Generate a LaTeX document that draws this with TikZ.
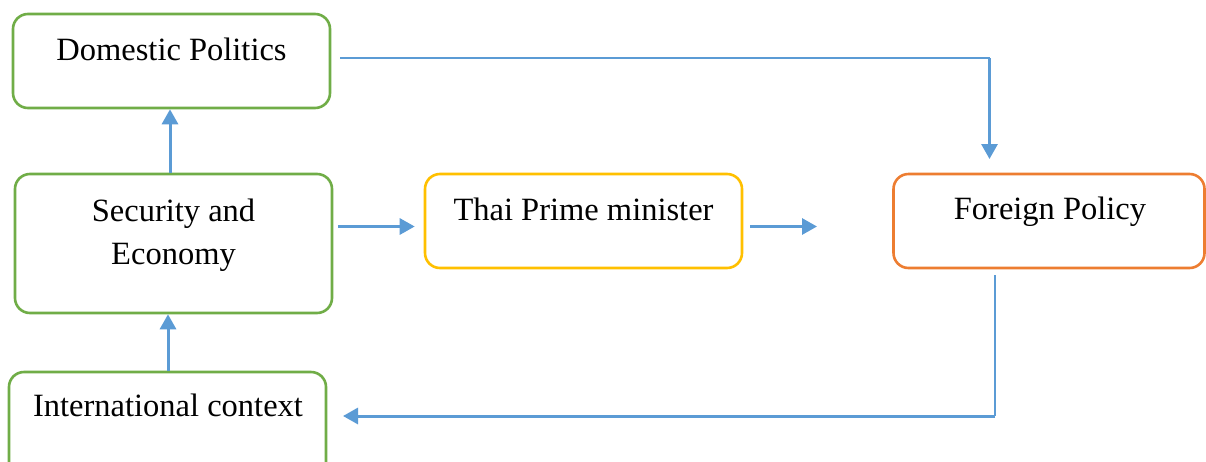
\documentclass[tikz,border=0pt]{standalone}
\usepackage{fontspec}
\setmainfont{Liberation Serif}
\usetikzlibrary{arrows.meta,calc}
\definecolor{boxgreen}{HTML}{70AD47}
\definecolor{boxyellow}{HTML}{FFC000}
\definecolor{boxorange}{HTML}{ED7D31}
\definecolor{linkblue}{HTML}{5B9BD5}
\tikzset{
  box/.style={draw, line width=2.6pt, rounded corners=15pt, rectangle, inner sep=0pt},
  label text/.style={font=\fontsize{32.5}{43}\selectfont, anchor=base, inner sep=0pt, align=center},
  flow/.style={draw=linkblue, line width=3pt, -{Triangle[length=15pt,width=16pt]}},
  thinlink/.style={draw=linkblue, line width=1.1pt},
}
\begin{document}
\begin{tikzpicture}[x=1pt,y=-1pt]
\useasboundingbox (0,0) rectangle (1206,461);
\clip (0,0) rectangle (1206,461);
\fill[white] (0,0) rectangle (1206,461);

% boxes
\node[box, draw=boxgreen, minimum width=317pt, minimum height=94pt] (dom) at (171.5,61) {};
\node[box, draw=boxgreen, minimum width=317pt, minimum height=139pt] (sec) at (173.5,243.5) {};
\node[box, draw=boxyellow, minimum width=317pt, minimum height=94pt] (pm) at (583.5,221) {};
\node[box, draw=boxorange, minimum width=311pt, minimum height=94pt] (fp) at (1049,221) {};
\node[box, draw=boxgreen, minimum width=317pt, minimum height=110pt] (intl) at (167.5,427) {};

% captions
\node[label text] (domt) at (171.5,60) {Domestic Politics};
\node[label text] (sect1) at (173.5,221) {Security and};
\node[label text] (sect2) at (173.5,264) {Economy};
\node[label text] (pmt) at (583.5,220) {Thai Prime minister};
\node[label text] (fpt) at (1050,219) {Foreign Policy};
\node[label text] (intlt) at (168,416) {International context};

% free ends of the connectors
\coordinate (domout) at (340,58);
\coordinate (topcorner) at (989.5,58);
\coordinate (fpin) at (989.5,159);
\coordinate (pmout) at (817,226.5);
\coordinate (fpout) at (995,275);
\coordinate (botcorner) at (995,416);
\coordinate (intlin) at (343,416);

% connectors
\draw[flow] ([xshift=-3.5pt]sec.north) -- ([xshift=-1.5pt]dom.south);
\draw[flow] ([xshift=0.5pt]intl.north) -- ([xshift=-5.5pt]sec.south);
\draw[flow, shorten <=5pt, shorten >=9pt] (sec.east |- pmout) -- (pm.west |- pmout);
\draw[flow, shorten <=7pt] (pm.east |- pmout) -- (pmout);
\draw[thinlink] (domout) -- (topcorner);
\draw[flow] (topcorner) -- (fpin);
\draw[thinlink] (fpout) -- (botcorner);
\draw[flow] (botcorner) -- (intlin);
\end{tikzpicture}
\end{document}
